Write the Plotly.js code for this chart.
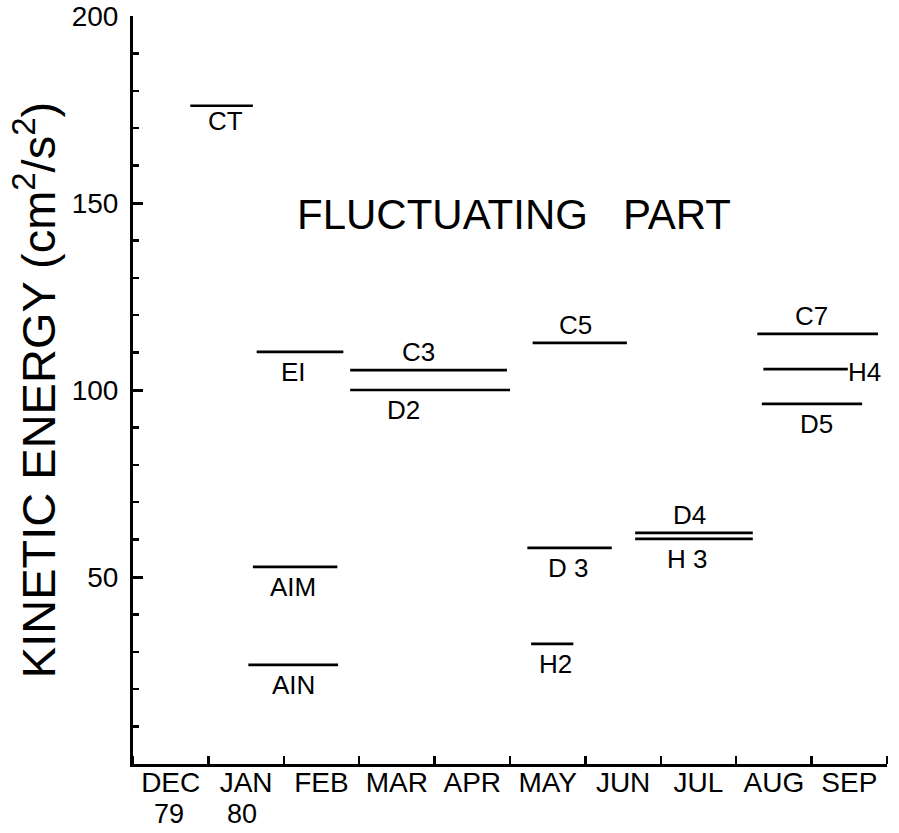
<!DOCTYPE html>
<html>
<head>
<meta charset="utf-8">
<script src="https://cdn.plot.ly/plotly-3.0.1.min.js"></script>
<style>html,body{margin:0;padding:0;background:#fff;}#chart{width:899px;height:833px;}</style>
</head>
<body>
<div id="chart"></div>
<script>
// Month categories (each month occupies one unit on the x axis, DEC 79 = 0..1)
const monthLabels = ["DEC", "JAN", "FEB", "MAR", "APR", "MAY", "JUN", "JUL", "AUG", "SEP"];
const yearLabels  = ["79", "80"];   // years under DEC and JAN

// Record segments: name, start (months since 1 Dec 1979), end, kinetic energy (cm^2/s^2)
const segNames  = ["CT",  "EI",  "AIM", "AIN", "C3",  "D2",  "C5",  "D 3", "H2",  "D4",  "H 3", "C7",  "H4",  "D5"];
const segStart  = [0.76,  1.64,  1.59,  1.53,  2.88,  2.88,  5.30,  5.23,  5.28,  6.66,  6.66,  8.28,  8.36,  8.34];
const segEnd    = [1.59,  2.79,  2.71,  2.72,  4.96,  5.00,  6.55,  6.35,  5.84,  8.22,  8.22,  9.88,  9.48,  9.67];
const segValue  = [176,   110.2, 52.7,  26.5,  105.3, 100.0, 112.6, 57.8,  32.1,  61.8,  60.2,  115.0, 105.6, 96.3];

// Y-axis tick labels
const yTickVals = [50, 100, 150, 200];
const yTickText = ["50", "100", "150", "200"];

// Label placement style (not data): where each label sits relative to its line
const labelSide   = ["below","below","below","below","above","below","above","below","below","above","below","above","right","below"];
const labelXShift = [4,      -7,     -2,     0,      -10,    -27,    -4,     -2,     3,      -4,     -7,     -6,     0,      5];

const xs = [], ys = [];
for (let i = 0; i < segNames.length; i++) {
  xs.push(segStart[i], segEnd[i], null);
  ys.push(segValue[i], segValue[i], null);
}

const segTrace = {
  type: "scatter", mode: "lines", x: xs, y: ys,
  line: {color: "#000", width: 2.7}, hoverinfo: "skip", showlegend: false
};

const FONT = "Liberation Sans, Arial, Helvetica, sans-serif";

const annotations = segNames.map((n, i) => {
  const side = labelSide[i];
  const a = {
    text: n, showarrow: false, xref: "x", yref: "y",
    y: segValue[i], font: {family: FONT, size: 26, color: "#000"},
    yanchor: "middle"
  };
  if (side === "right") {
    a.x = segEnd[i]; a.xanchor = "left"; a.xshift = -2; a.yshift = -3;
  } else {
    a.x = (segStart[i] + segEnd[i]) / 2; a.xanchor = "center";
    a.xshift = labelXShift[i];
    a.yshift = side === "below" ? (n === "CT" ? -15 : -20) : 18;
  }
  return a;
});

annotations.push({
  text: "FLUCTUATING&nbsp;&nbsp;&nbsp;PART", showarrow: false,
  xref: "paper", yref: "paper", x: (514 - 133) / 754, y: (764 - 215) / 748,
  xanchor: "center", yanchor: "middle",
  font: {family: FONT, size: 42, color: "#000"}
});

yearLabels.forEach((t, i) => {
  annotations.push({
    text: t, showarrow: false, xref: "x", yref: "paper",
    x: i + 0.5, y: (764 - 814) / 748, xanchor: "center", yanchor: "middle",
    xshift: i === 0 ? -2 : -4,
    font: {family: FONT, size: 27, color: "#000"}
  });
});

const layout = {
  width: 899, height: 833,
  margin: {l: 133, r: 12, t: 16, b: 69},
  paper_bgcolor: "#fff", plot_bgcolor: "#fff",
  showlegend: false,
  xaxis: {
    range: [0, 10], showgrid: false, zeroline: false,
    showline: true, linecolor: "#000", linewidth: 3,
    tickmode: "array",
    tickvals: monthLabels.map((_, i) => i + 0.5),
    ticktext: monthLabels,
    ticks: "", ticklen: 0,
    ticklabelstandoff: -9,
    tickfont: {family: FONT, size: 28, color: "#000"},
    minor: {dtick: 1, tick0: 0, ticks: "inside", ticklen: 8, tickwidth: 2.5, tickcolor: "#000", showgrid: false}
  },
  yaxis: {
    range: [0, 200], showgrid: false, zeroline: false,
    showline: true, linecolor: "#000", linewidth: 3,
    tickmode: "array", tickvals: yTickVals, ticktext: yTickText,
    ticks: "inside", ticklen: 10, tickwidth: 3, tickcolor: "#000",
    ticklabelstandoff: 6,
    tickfont: {family: FONT, size: 28, color: "#000"},
    minor: {dtick: 10, tick0: 0, ticks: "inside", ticklen: 6, tickwidth: 2.5, tickcolor: "#000", showgrid: false},
    title: {
      text: "KINETIC ENERGY (cm<sup>2</sup>/s<sup>2</sup>)",
      font: {family: FONT, size: 47, color: "#000"},
      standoff: 2
    },
    automargin: false
  },
  annotations: annotations
};

Plotly.newPlot("chart", [segTrace], layout, {displayModeBar: false, staticPlot: true});
</script>
</body>
</html>
